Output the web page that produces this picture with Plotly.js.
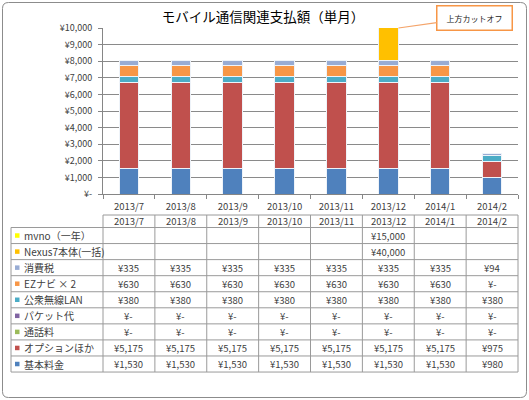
<!DOCTYPE html>
<html>
<head>
<meta charset="utf-8">
<script src="https://cdn.plot.ly/plotly-3.0.1.min.js"></script>
<style>html,body{margin:0;padding:0;background:#fff;}#chart{width:529px;height:400px;}</style>
</head>
<body>
<div id="chart"></div>
<script>
// ---- data ----
const months = ['2013/7','2013/8','2013/9','2013/10','2013/11','2013/12','2014/1','2014/2'];
const seriesNames = ['基本料金','オプションほか','通話料','パケット代','公衆無線LAN','EZナビ × 2','消費税','Nexus7本体(一括)','mvno（一年）'];
const kihon   = [1530,1530,1530,1530,1530,1530,1530,980];
const option  = [5175,5175,5175,5175,5175,5175,5175,975];
const tsuwa   = [0,0,0,0,0,0,0,0];
const packet  = [0,0,0,0,0,0,0,0];
const wlan    = [380,380,380,380,380,380,380,380];
const eznavi  = [630,630,630,630,630,630,630,0];
const tax     = [335,335,335,335,335,335,335,94];
const nexus   = [null,null,null,null,null,40000,null,null];
const mvno    = [null,null,null,null,null,15000,null,null];
const yTickVals = [0,1000,2000,3000,4000,5000,6000,7000,8000,9000,10000];
const yTickText = ['¥-','¥1,000','¥2,000','¥3,000','¥4,000','¥5,000','¥6,000','¥7,000','¥8,000','¥9,000','¥10,000'];
const titleText = 'モバイル通信関連支払額（単月）';
const calloutText = '上方カットオフ';

// ---- styling ----
const seriesValues = [kihon, option, tsuwa, packet, wlan, eznavi, tax, nexus, mvno];
const colors = ['#4F81BD','#C0504D','#9BBB59','#8064A2','#4BACC6','#F79646','#98ACD4','#FFC000','#FFFF00'];
const FONT = '"Noto Sans CJK JP", "Noto Sans", sans-serif';
const TXT = '#404040';
const W = 529, H = 400;
const px = x => x / W;
const py = y => 1 - y / H;

// plot area (pixels)
const PL = 103, PR = 518, PT = 28, PB = 194;
// table geometry (pixels)
const TL = 11, TT = 215, HH = 12.5, RH = 16.06;
const CW = (PR - PL) / months.length;

const traces = seriesValues.map((vals, k) => ({
  type: 'bar',
  name: seriesNames[k],
  x: months,
  y: vals,
  marker: {color: colors[k], line: {color: '#EEF3F9', width: 1}},
  hoverinfo: 'skip'
}));

const shapes = [];
const annotations = [];
const line = {color: '#9a9a9a', width: 1};

function fmt(v) {
  if (v === null || v === undefined) return '';
  if (v === 0) return '¥-';
  return '¥' + v.toLocaleString('en-US');
}

// outer rounded border
(function () {
  const x0 = 2.5, y0 = 2.5, x1 = 526.5, y1 = 397.5, r = 6;
  const X = v => px(v), Y = v => py(v);
  const d = `M${X(x0 + r)},${Y(y0)} L${X(x1 - r)},${Y(y0)} Q${X(x1)},${Y(y0)} ${X(x1)},${Y(y0 + r)} ` +
            `L${X(x1)},${Y(y1 - r)} Q${X(x1)},${Y(y1)} ${X(x1 - r)},${Y(y1)} ` +
            `L${X(x0 + r)},${Y(y1)} Q${X(x0)},${Y(y1)} ${X(x0)},${Y(y1 - r)} ` +
            `L${X(x0)},${Y(y0 + r)} Q${X(x0)},${Y(y0)} ${X(x0 + r)},${Y(y0)} Z`;
  shapes.push({type: 'path', xref: 'paper', yref: 'paper', path: d, line: {color: '#8c8c8c', width: 1}, layer: 'below'});
})();

// table: header row
const bodyTop = TT + HH;
const nRows = seriesValues.length;
const bodyBottom = bodyTop + RH * nRows;
shapes.push({type: 'line', xref: 'paper', yref: 'paper', x0: px(PL), x1: px(PR), y0: py(TT), y1: py(TT), line});
for (let i = 0; i <= months.length; i++) {
  const x = PL + CW * i;
  shapes.push({type: 'line', xref: 'paper', yref: 'paper', x0: px(x), x1: px(x), y0: py(TT), y1: py(bodyBottom), line});
}
shapes.push({type: 'line', xref: 'paper', yref: 'paper', x0: px(TL), x1: px(TL), y0: py(bodyTop), y1: py(bodyBottom), line});
for (let r = 0; r <= nRows; r++) {
  const y = bodyTop + RH * r;
  shapes.push({type: 'line', xref: 'paper', yref: 'paper', x0: px(TL), x1: px(PR), y0: py(y), y1: py(y), line});
}
months.forEach((m, i) => {
  annotations.push({xref: 'paper', yref: 'paper', x: px(PL + CW * (i + 0.5)), y: py(TT + HH / 2),
    text: m, showarrow: false, xanchor: 'center', yanchor: 'middle', font: {family: FONT, size: 9.5, color: TXT}});
});
// table body: rows top->bottom are series in reverse stack order
for (let r = 0; r < nRows; r++) {
  const k = nRows - 1 - r;
  const yc = bodyTop + RH * (r + 0.5);
  shapes.push({type: 'rect', xref: 'paper', yref: 'paper', x0: px(15), x1: px(19.5), y0: py(yc - 2.25), y1: py(yc + 2.25),
    fillcolor: colors[k], line: {width: 0}});
  annotations.push({xref: 'paper', yref: 'paper', x: px(21.5), y: py(yc), text: seriesNames[k], showarrow: false,
    xanchor: 'left', yanchor: 'middle', font: {family: FONT, size: 10, color: TXT}});
  seriesValues[k].forEach((v, i) => {
    const t = fmt(v);
    if (!t) return;
    annotations.push({xref: 'paper', yref: 'paper', x: px(PL + CW * (i + 0.5)), y: py(yc), text: t, showarrow: false,
      xanchor: 'center', yanchor: 'middle', font: {family: FONT, size: 9.5, color: TXT}});
  });
}

// callout
annotations.push({xref: 'paper', yref: 'paper', x: px(398.5), y: py(28), ax: 76, ay: -10.5, axref: 'pixel', ayref: 'pixel',
  text: calloutText, showarrow: true, arrowhead: 0, arrowwidth: 1.2, arrowcolor: '#F4A46A', standoff: 0,
  bordercolor: '#F79646', borderwidth: 1.5, bgcolor: '#ffffff', width: 70, height: 19, borderpad: 2,
  font: {family: FONT, size: 8, color: '#222'}});

const layout = {
  width: W, height: H,
  margin: {l: 0, r: 0, t: 0, b: 0, pad: 0},
  paper_bgcolor: '#ffffff', plot_bgcolor: '#ffffff',
  showlegend: false,
  barmode: 'stack',
  bargap: 0.625,
  title: {text: titleText, x: px(263), y: py(17), xref: 'paper', yref: 'paper', xanchor: 'center', yanchor: 'middle',
    font: {family: FONT, size: 13.5, color: '#000'}},
  xaxis: {domain: [px(PL), px(PR)], type: 'category', tickson: 'boundaries', ticks: 'outside', ticklen: 4,
    tickcolor: '#868686', showline: true, linecolor: '#868686', linewidth: 1, showgrid: false,
    ticklabelstandoff: 4,
    tickfont: {family: FONT, size: 9.5, color: TXT}, fixedrange: true},
  yaxis: {domain: [py(PB), py(PT)], range: [0, 10000], tickvals: yTickVals, ticktext: yTickText,
    ticks: 'outside', ticklen: 4, tickcolor: '#868686', showline: true, linecolor: '#868686', linewidth: 1,
    showgrid: true, gridcolor: '#8a8a8a', gridwidth: 1, zeroline: false, ticklabelstandoff: 4,
    tickfont: {family: FONT, size: 9, color: TXT}, fixedrange: true},
  shapes, annotations
};

Plotly.newPlot('chart', traces, layout, {staticPlot: true, displayModeBar: false});
</script>
</body>
</html>
